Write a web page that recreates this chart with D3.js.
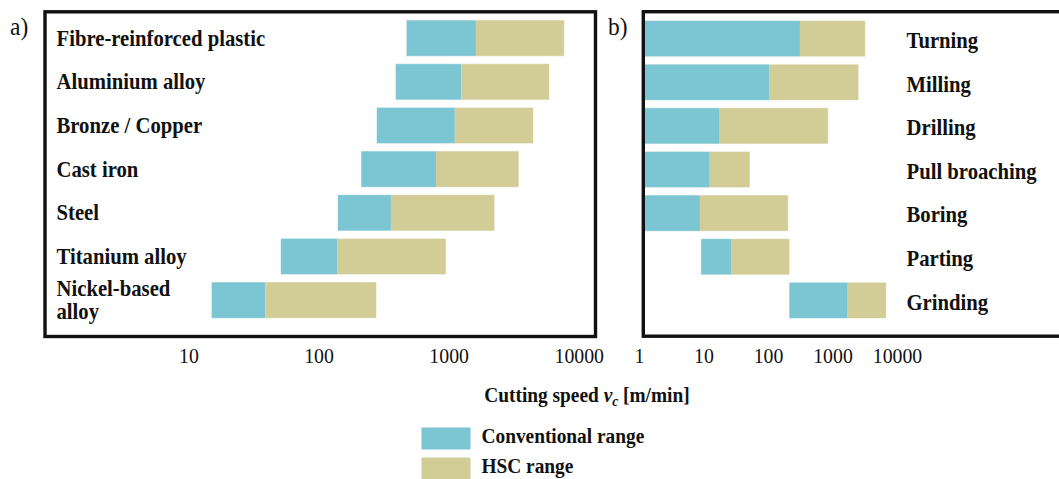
<!DOCTYPE html>
<html>
<head>
<meta charset="utf-8">
<script src="https://cdn.jsdelivr.net/npm/d3@7"></script>
<style>
  html, body { margin: 0; padding: 0; background: #fff; }
  svg { display: block; }
</style>
</head>
<body>
<svg id="chart" width="1059" height="479"></svg>
<script>
// Panel a: work materials, cutting speed ranges [m/min]
const materials = ["Fibre-reinforced plastic", "Aluminium alloy", "Bronze / Copper", "Cast iron", "Steel", "Titanium alloy", "Nickel-based alloy"];
const materialConvLow  = [472, 390, 279, 212, 140, 51, 15];
const materialConvHigh = [1620, 1250, 1115, 800, 360, 140, 39];
const materialHscHigh  = [7750, 5950, 4480, 3470, 2260, 955, 279];

// Panel b: machining processes, cutting speed ranges [m/min]
const processes = ["Turning", "Milling", "Drilling", "Pull broaching", "Boring", "Parting", "Grinding"];
const processConvLow  = [1, 1, 1, 1, 1, 9.1, 212];
const processConvHigh = [313, 104, 17.4, 12.5, 8.8, 26.7, 1720];
const processHscHigh  = [3230, 2550, 860, 52.6, 206, 217, 6830];

const ticksA = [10, 100, 1000, 10000];
const ticksB = [1, 10, 100, 1000, 10000];

const legendLabels = ["Conventional range", "HSC range"];
const colors = ["#7cc5d2", "#d2cd96"];

const SERIF = "'Liberation Serif', 'Times New Roman', Times, serif";
const SX = 0.9; // horizontal condensing of all lettering

const svg = d3.select("#chart");

// Text helper: places a string at (x, y) with a horizontal squeeze.
function label(parent, x, y, str, opt = {}) {
  return parent.append("text")
    .attr("transform", `translate(${x},${y}) scale(${SX},1)`)
    .attr("text-anchor", opt.anchor || "start")
    .attr("font-family", SERIF)
    .attr("font-size", opt.size || 23)
    .attr("font-weight", opt.weight || "bold")
    .attr("fill", "#111")
    .text(str);
}

// Scales
const xA = d3.scaleLog().domain([1, 10000]).range([58.35, 578.75]);
const xB = d3.scaleLog().domain([1, 10000]).range([639, 897]);
const yA = d3.scaleBand().domain(materials).range([20, 318.3]).paddingInner(0.169).paddingOuter(0);
const yB = d3.scaleBand().domain(processes).range([20.5, 318.5]).paddingInner(0.169).paddingOuter(0);

// Clip for panel b plot area
svg.append("defs").append("clipPath").attr("id", "clipB")
  .append("rect").attr("x", 645).attr("y", 13).attr("width", 420).attr("height", 322);

function drawBars(g, cats, lo, mid, hi, x, y) {
  cats.forEach((c, i) => {
    const y0 = y(c), h = y.bandwidth();
    g.append("rect").attr("x", x(lo[i])).attr("y", y0)
      .attr("width", x(mid[i]) - x(lo[i])).attr("height", h).attr("fill", colors[0]);
    g.append("rect").attr("x", x(mid[i])).attr("y", y0)
      .attr("width", x(hi[i]) - x(mid[i])).attr("height", h).attr("fill", colors[1]);
    g.append("rect").attr("x", x(lo[i])).attr("y", y0)
      .attr("width", x(hi[i]) - x(lo[i])).attr("height", h)
      .attr("fill", "none").attr("stroke", "rgba(255,255,255,0.55)").attr("stroke-width", 1);
  });
}

// ---- Panel a ----
const gA = svg.append("g");
drawBars(gA, materials, materialConvLow, materialConvHigh, materialHscHigh, xA, yA);
gA.append("rect").attr("x", 45).attr("y", 11.8).attr("width", 550.5).attr("height", 324.7)
  .attr("fill", "none").attr("stroke", "#111").attr("stroke-width", 3.4);

materials.forEach((m, i) => {
  const cy = yA(m) + yA.bandwidth() / 2;
  if (m === "Nickel-based alloy") {
    label(gA, 56.5, cy - 4.5, "Nickel-based");
    label(gA, 56.5, cy + 18.5, "alloy");
  } else {
    label(gA, 56.5, cy + 7.5, m);
  }
});

const axA = svg.append("g").attr("transform", "translate(0,336)")
  .call(d3.axisBottom(xA).tickValues(ticksA).tickFormat(d3.format("d")).tickSize(0));
axA.select(".domain").remove();
axA.selectAll("text")
  .attr("y", 27.3).attr("dy", 0)
  .attr("transform", `scale(${SX},1)`)
  .attr("font-family", SERIF).attr("font-size", 22).attr("fill", "#111");

label(svg, 10, 35, "a)", { size: 26, weight: "normal" });

// ---- Panel b ----
const gB = svg.append("g");
drawBars(gB.append("g").attr("clip-path", "url(#clipB)"),
  processes, processConvLow, processConvHigh, processHscHigh, xB, yB);
gB.append("rect").attr("x", 643.3).attr("y", 11.7).attr("width", 440).attr("height", 324.5)
  .attr("fill", "none").attr("stroke", "#111").attr("stroke-width", 3.4);

processes.forEach(p => {
  const cy = yB(p) + yB.bandwidth() / 2;
  label(gB, 906.5, cy + 9.3, p);
});

const axB = svg.append("g").attr("transform", "translate(0,336)")
  .call(d3.axisBottom(xB).tickValues(ticksB).tickFormat(d3.format("d")).tickSize(0));
axB.select(".domain").remove();
axB.selectAll("text")
  .attr("y", 26.7).attr("dy", 0)
  .attr("transform", `scale(${SX},1)`)
  .attr("font-family", SERIF).attr("font-size", 22).attr("fill", "#111");

label(svg, 608, 35, "b)", { size: 26, weight: "normal" });

// ---- Axis title ----
const title = label(svg, 587, 401.7, "", { anchor: "middle", size: 21.5 });
title.append("tspan").text("Cutting speed ");
title.append("tspan").attr("font-style", "italic").text("v");
title.append("tspan").attr("font-style", "italic").attr("font-size", 15).attr("dy", 4).text("c");
title.append("tspan").attr("dy", -4).text(" [m/min]");

// ---- Legend ----
const leg = svg.append("g");
legendLabels.forEach((t, i) => {
  leg.append("rect").attr("x", 421.5).attr("y", 427.5 + i * 30)
    .attr("width", 49).attr("height", 22).attr("fill", colors[i]);
  label(leg, 481.5, 443.3 + i * 30, t, { size: 21.5 });
});
</script>
</body>
</html>
